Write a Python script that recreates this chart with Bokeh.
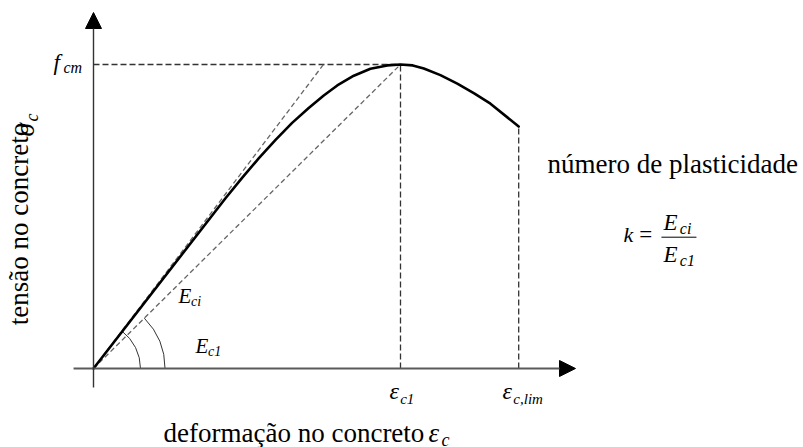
import math
from bokeh.plotting import figure
from bokeh.models import Range1d, Arrow, NormalHead, Label, FixedTicker
from bokeh.core.properties import value
from bokeh.embed import file_html
from bokeh.resources import INLINE

# Normalised stress-strain curve of concrete in compression:
# strain as eps/eps_c1, stress as sigma_c/f_cm
strain_ratio = [0.0, 0.430, 0.484, 0.538, 0.593, 0.647, 0.701, 0.750, 0.794,
                0.848, 0.902, 0.957, 1.000, 1.040, 1.076, 1.130, 1.185, 1.240,
                1.293, 1.385]
stress_ratio = [0.0, 0.560, 0.627, 0.691, 0.752, 0.808, 0.857, 0.898, 0.931,
                0.963, 0.986, 0.997, 1.000, 0.997, 0.987, 0.965, 0.937, 0.905,
                0.871, 0.796]

eps_c1 = 1.0          # strain at peak stress
eps_lim = 1.385       # ultimate strain eps_c,lim
f_cm = 1.0            # mean compressive strength
E_ci = 1.335          # tangent modulus at origin
E_c1 = f_cm / eps_c1  # secant modulus to the peak

FONT = "Liberation Serif"
SHIFT = 0.30          # baseline correction, in em
LABEL_STANDOFF = -22  # pulls the left title panel in, label stays at the edge
AXIS_W = 33 + LABEL_STANDOFF  # width taken by the left title panel, px

p = figure(width=803, height=447, output_backend="svg", toolbar_location=None,
           x_range=Range1d((AXIS_W - 93) / 307, 2.3127), y_range=Range1d(-0.2599, 1.2105),
           x_axis_location=None, y_axis_location="left", min_border=0)
p.grid.visible = False
p.outline_line_color = None
p.background_fill_color = "white"
p.border_fill_color = "white"

# left panel only carries the stress title
ax = p.yaxis[0]
ax.ticker = FixedTicker(ticks=[])
ax.axis_line_color = None
ax.major_tick_line_color = None
ax.minor_tick_line_color = None
ax.major_tick_out = 0
ax.major_tick_in = 0
ax.minor_tick_out = 0
ax.major_label_standoff = 0
ax.major_label_text_font = FONT
ax.bounds = (0.108, 0.708)
ax.axis_label = "tensão no concreto"
ax.axis_label_text_font = FONT
ax.axis_label_text_font_size = "27px"
ax.axis_label_text_font_style = "normal"
ax.axis_label_text_color = "black"
ax.axis_label_standoff = LABEL_STANDOFF


def txt(x, y, s, size, style="normal"):
    p.text(x=[x], y=[y], text=[s], text_font=value(FONT), text_font_size=f"{size}px",
           text_font_style=style, text_align="left", text_baseline="alphabetic",
           y_offset=-SHIFT * size, text_color="black")


def vtxt(x, y, s, size, style="normal"):
    p.add_layout(Label(x=x, y=y, text=s, angle=math.pi / 2, text_font=FONT,
                       text_font_size=f"{size}px", text_font_style=style,
                       text_align="left", text_baseline="alphabetic",
                       x_offset=-SHIFT * size, text_color="black"))


# axes with arrow heads
p.add_layout(Arrow(end=NormalHead(size=16, fill_color="black", line_color="black"),
                   x_start=-0.065, y_start=0, x_end=1.570, y_end=0,
                   line_color="#5a5a5a", line_width=2))
p.add_layout(Arrow(end=NormalHead(size=16, fill_color="black", line_color="black"),
                   x_start=0, y_start=-0.0625, x_end=0, y_end=1.171,
                   line_color="#333333", line_width=1.4))

# reference lines: f_cm level, eps_c1 and eps_c,lim
p.line([0, eps_c1], [f_cm, f_cm], line_color="#333333", line_width=1.3, line_dash="6 3")
p.line([eps_c1, eps_c1], [0, f_cm], line_color="#333333", line_width=1.3, line_dash="6 3")
p.line([eps_lim, eps_lim], [0, stress_ratio[-1]], line_color="#333333",
       line_width=1.3, line_dash="6 3")

# tangent (E_ci) and secant (E_c1) moduli
p.line([0, f_cm / E_ci], [0, f_cm], line_color="#666666", line_width=1.3, line_dash="5 3")
p.line([0, eps_c1], [0, f_cm], line_color="#666666", line_width=1.3, line_dash="5 3")

# angle marks
p.arc(x=0, y=0, radius=0.153, start_angle=0, end_angle=math.atan(E_ci * 304 / 307),
      line_color="#333333", line_width=1)
p.arc(x=0, y=0, radius=0.233, start_angle=0, end_angle=math.atan(E_c1 * 304 / 307),
      line_color="#333333", line_width=1)

# the curve
p.line(strain_ratio, stress_ratio, line_color="black", line_width=2.6,
       line_join="round", line_cap="round")

# labels
txt(-0.130, 0.9836, "f", 23, "italic")
txt(-0.0977, 0.9737, "cm", 16, "italic")

txt(0.964, -0.0987, "ε", 24, "italic")
txt(0.9990, -0.1151, "c1", 15, "italic")
txt(1.3325, -0.0987, "ε", 24, "italic")
txt(1.3675, -0.1151, "c,lim", 15, "italic")

txt(0.2769, 0.2171, "E", 21, "italic")
txt(0.3176, 0.2056, "ci", 14, "italic")
txt(0.3322, 0.0526, "E", 21, "italic")
txt(0.373, 0.0411, "c1", 14, "italic")

# strain title
txt(0.228, -0.240, "deformação no concreto", 27)
txt(1.091, -0.240, "ε", 27, "italic")
txt(1.1336, -0.2535, "c", 18, "italic")

# symbol of the stress title
vtxt(-0.1954, 0.763, "σ", 27, "italic")
vtxt(-0.1824, 0.8125, "c", 18, "italic")

# plasticity number
txt(1.4788, 0.6464, "número de plasticidade", 27)
txt(1.7264, 0.4194, "k", 22, "italic")
txt(1.778, 0.4194, "=", 23)
p.line([1.850, 1.964], [0.4319, 0.4319], line_color="black", line_width=1)
txt(1.8567, 0.4572, "E", 23, "italic")
txt(1.9100, 0.4440, "ci", 16, "italic")
txt(1.8567, 0.3520, "E", 23, "italic")
txt(1.9100, 0.3390, "c1", 16, "italic")

open("out.html", "w").write(file_html(p, INLINE))
